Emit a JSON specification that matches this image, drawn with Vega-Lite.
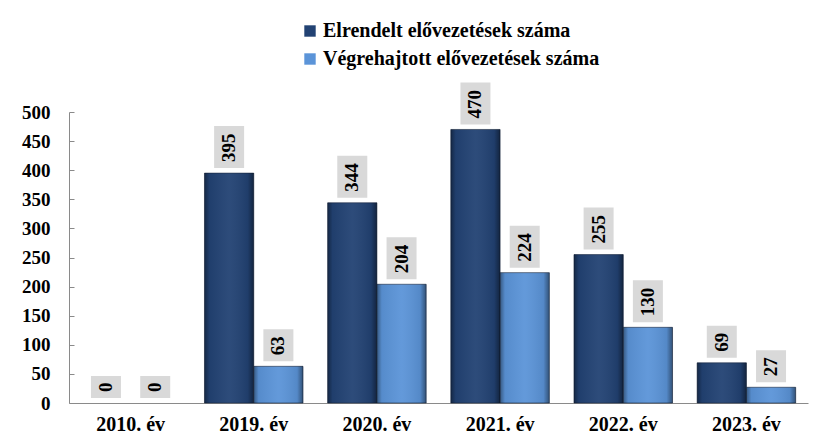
{
  "$schema": "https://vega.github.io/schema/vega-lite/v6.json",
  "width": 739,
  "height": 291,
  "autosize": {"type": "none"},
  "padding": {"left": 69, "top": 112, "right": 6, "bottom": 34},
  "background": "white",
  "config": {
    "font": "Liberation Serif",
    "view": {"stroke": null}
  },
  "data": {
    "values": [
      {"year": "2010. év", "series": "Elrendelt elővezetések száma", "value": 0},
      {"year": "2010. év", "series": "Végrehajtott elővezetések száma", "value": 0},
      {"year": "2019. év", "series": "Elrendelt elővezetések száma", "value": 395},
      {"year": "2019. év", "series": "Végrehajtott elővezetések száma", "value": 63},
      {"year": "2020. év", "series": "Elrendelt elővezetések száma", "value": 344},
      {"year": "2020. év", "series": "Végrehajtott elővezetések száma", "value": 204},
      {"year": "2021. év", "series": "Elrendelt elővezetések száma", "value": 470},
      {"year": "2021. év", "series": "Végrehajtott elővezetések száma", "value": 224},
      {"year": "2022. év", "series": "Elrendelt elővezetések száma", "value": 255},
      {"year": "2022. év", "series": "Végrehajtott elővezetések száma", "value": 130},
      {"year": "2023. év", "series": "Elrendelt elővezetések száma", "value": 69},
      {"year": "2023. év", "series": "Végrehajtott elővezetések száma", "value": 27}
    ]
  },
  "encoding": {
    "x": {
      "field": "year", "type": "nominal",
      "sort": ["2010. év", "2019. év", "2020. év", "2021. év", "2022. év", "2023. év"],
      "scale": {"paddingInner": 0.2, "paddingOuter": 0.1},
      "axis": {
        "title": null, "labelAngle": 0, "ticks": false,
        "labelFontSize": 20, "labelFontWeight": "bold", "labelColor": "black",
        "labelPadding": 11, "domainColor": "#8a8a8a"
      }
    },
    "xOffset": {
      "field": "series", "type": "nominal",
      "sort": ["Elrendelt elővezetések száma", "Végrehajtott elővezetések száma"],
      "scale": {"paddingInner": 0, "paddingOuter": 0}
    },
    "y": {
      "field": "value", "type": "quantitative",
      "scale": {"domain": [0, 500]},
      "axis": {
        "title": null, "grid": false, "values": [0, 50, 100, 150, 200, 250, 300, 350, 400, 450, 500],
        "labelOverlap": false,
        "labelFontSize": 19, "labelFontWeight": "bold", "labelColor": "black",
        "tickSize": -5, "labelPadding": 24, "domainColor": "#8a8a8a", "tickColor": "#8a8a8a"
      }
    }
  },
  "layer": [
    {
      "transform": [{"filter": "datum.value > 0"}],
      "mark": {"type": "bar", "stroke": "#17253d", "strokeWidth": 0.6},
      "encoding": {
        "color": {
          "field": "series", "type": "nominal",
          "scale": {
            "domain": ["Elrendelt elővezetések száma", "Végrehajtott elővezetések száma"],
            "range": ["#224273", "#5b94d8"]
          },
          "legend": {
            "title": null, "orient": "none", "legendX": 231, "legendY": -91,
            "direction": "vertical", "symbolType": "square", "symbolSize": 130,
            "symbolStrokeWidth": 0, "labelFontSize": 20, "labelFontWeight": "bold",
            "labelColor": "black", "labelOffset": 3, "rowPadding": 8, "labelLimit": 0
          }
        }
      }
    },
    {
      "transform": [{"filter": "datum.value > 0"}],
      "mark": {
        "type": "bar",
        "fill": {
          "gradient": "linear", "x1": 0, "x2": 1, "y1": 0, "y2": 0,
          "stops": [
            {"offset": 0, "color": "rgba(0,0,0,0.4)"},
            {"offset": 0.1, "color": "rgba(0,0,0,0.06)"},
            {"offset": 0.5, "color": "rgba(255,255,255,0.05)"},
            {"offset": 0.88, "color": "rgba(0,0,0,0.08)"},
            {"offset": 1, "color": "rgba(0,0,0,0.45)"}
          ]
        }
      },
      "encoding": {}
    },
    {
      "transform": [{"filter": "datum.value < 10"}],
      "mark": {"type": "bar", "color": "#d9d9d9", "width": 30, "yOffset": -5, "y2Offset": -27},
      "encoding": {
        "y2": {"field": "value"}
      }
    },
    {
      "transform": [{"filter": "datum.value >= 10 && datum.value < 100"}],
      "mark": {"type": "bar", "color": "#d9d9d9", "width": 30, "yOffset": -5, "y2Offset": -37},
      "encoding": {
        "y2": {"field": "value"}
      }
    },
    {
      "transform": [{"filter": "datum.value >= 100"}],
      "mark": {"type": "bar", "color": "#d9d9d9", "width": 30, "yOffset": -5, "y2Offset": -47},
      "encoding": {
        "y2": {"field": "value"}
      }
    },
    {
      "mark": {"type": "text", "angle": 270, "align": "left", "baseline": "middle", "yOffset": -11, "fontSize": 19, "fontWeight": "bold", "color": "black"},
      "encoding": {
        "text": {"field": "value", "type": "quantitative"}
      }
    }
  ]
}
